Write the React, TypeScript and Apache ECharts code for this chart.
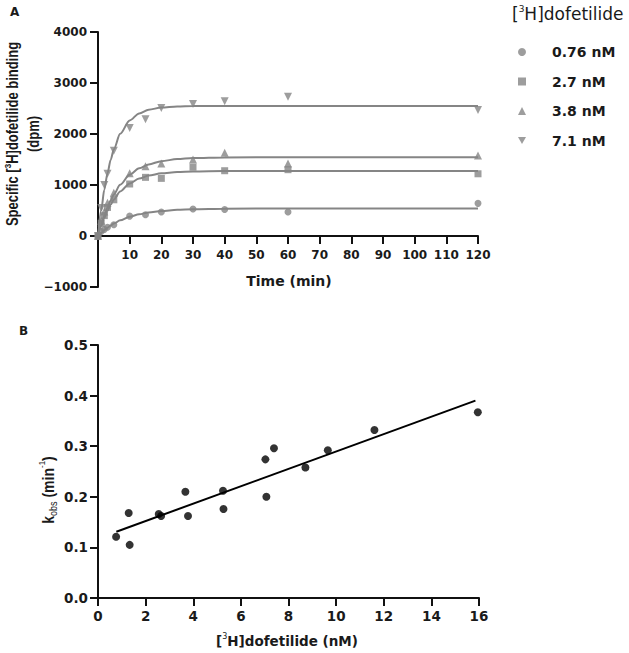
import React, { useEffect, useRef } from "react";
import * as echarts from "echarts";

// ---- Panel A data ----
const timesA = [0, 1, 2, 3, 5, 10, 15, 20, 30, 40, 60, 120];
const conc076 = [0, 90, 130, 170, 220, 390, 415, 470, 530, 520, 470, 640];
const conc27 = [0, 250, 400, 560, 710, 1020, 1150, 1130, 1350, 1280, 1300, 1220];
const conc38 = [0, 300, 480, 650, 850, 1230, 1370, 1420, 1500, 1630, 1420, 1580];
const conc71 = [0, 550, 1000, 1220, 1670, 2120, 2290, 2510, 2590, 2640, 2730, 2470];

// fitted curves
const curveT = [0, 1, 2, 3, 4, 5, 7, 10, 13, 16, 20, 25, 30, 40, 60, 120];
const fit076 = [0, 61, 115, 163, 206, 244, 307, 377, 426, 461, 491, 513, 525, 536, 540, 540];
const fit27 = [0, 194, 358, 497, 616, 716, 873, 1030, 1126, 1184, 1228, 1254, 1266, 1273, 1275, 1275];
const fit38 = [0, 215, 400, 559, 697, 816, 1004, 1200, 1326, 1404, 1468, 1508, 1528, 1541, 1545, 1545];
const fit71 = [0, 503, 908, 1232, 1492, 1701, 2004, 2267, 2404, 2475, 2519, 2540, 2547, 2550, 2550, 2550];

const legendNames = ["0.76 nM", "2.7 nM", "3.8 nM", "7.1 nM"];

// ---- Panel B data ----
const concB = [0.76, 1.29, 1.33, 2.55, 2.65, 3.67, 3.78, 5.25, 5.27, 7.03, 7.07, 7.39, 8.71, 9.65, 11.61, 15.95];
const kobsB = [0.121, 0.168, 0.105, 0.166, 0.162, 0.21, 0.162, 0.212, 0.176, 0.274, 0.2, 0.296, 0.258, 0.292, 0.332, 0.367];
const regX = [0.77, 15.85];
const regY = [0.131, 0.39];

const GREY = "#858585";
const WIDE = "DejaVu Sans, Verdana, sans-serif";
const NARROW = "Liberation Sans, Arial, sans-serif";
const TXT = "#1a1a1a";
const DOWN_TRI = "path://M0,0 L10,0 L5,9 Z";

const zip = (xs: number[], ys: number[]) => xs.map((x, i) => [x, ys[i]]);

export default function App() {
  const ref = useRef<HTMLDivElement>(null);
  useEffect(() => {
    if (!ref.current) return;
    const chart = echarts.init(ref.current, null, { renderer: "svg" });

    const axisCommon = {
      axisLine: { onZero: false, lineStyle: { color: "#111", width: 2 } },
      axisTick: { length: 8, lineStyle: { color: "#111", width: 2 } },
      splitLine: { show: false },
    };

    const sym = ["circle", "rect", "triangle", DOWN_TRI];
    const symSize = [7, 7, 8, 8];
    const pts = [conc076, conc27, conc38, conc71];
    const fits = [fit076, fit27, fit38, fit71];

    const series: any[] = [];
    fits.forEach((f, i) => {
      series.push({
        name: "fit" + i,
        type: "line",
        xAxisIndex: 0,
        yAxisIndex: 0,
        data: zip(curveT, f),
        showSymbol: false,
        symbol: "none",
        smooth: 0.3,
        smoothMonotone: "x",
        lineStyle: { color: GREY, width: 2 },
        z: 2,
      });
    });
    pts.forEach((p, i) => {
      series.push({
        name: legendNames[i],
        type: "scatter",
        xAxisIndex: 0,
        yAxisIndex: 0,
        data: zip(timesA, p),
        symbol: sym[i],
        symbolSize: symSize[i],
        itemStyle: { color: GREY },
        z: 3,
      });
    });
    series.push({
      name: "kobs",
      type: "scatter",
      xAxisIndex: 1,
      yAxisIndex: 1,
      data: zip(concB, kobsB),
      symbol: "circle",
      symbolSize: 8,
      itemStyle: { color: "#000" },
      z: 3,
    });
    series.push({
      name: "regression",
      type: "line",
      xAxisIndex: 1,
      yAxisIndex: 1,
      data: zip(regX, regY),
      showSymbol: false,
      symbol: "none",
      lineStyle: { color: "#000", width: 2 },
      z: 2,
    });

    const labA = { fontFamily: WIDE, fontSize: 12, fontWeight: "bold", color: TXT };
    const labB = { fontFamily: WIDE, fontSize: 13.5, fontWeight: "bold", color: TXT };

    chart.setOption({
      animation: false,
      grid: [
        { left: 98, top: 32, width: 380, height: 255, containLabel: false },
        { left: 98, top: 345, width: 381, height: 253, containLabel: false },
      ],
      xAxis: [
        {
          type: "value",
          gridIndex: 0,
          min: 0,
          max: 120,
          interval: 10,
          position: "bottom",
          offset: -51,
          ...axisCommon,
          axisLabel: {
            ...labA,
            margin: 13,
            formatter: (v: number) => (v === 0 ? "" : String(v)),
          },
        },
        {
          type: "value",
          gridIndex: 1,
          min: 0,
          max: 16,
          interval: 2,
          ...axisCommon,
          axisLabel: { ...labB, margin: 11 },
        },
      ],
      yAxis: [
        {
          type: "value",
          gridIndex: 0,
          min: -1000,
          max: 4000,
          interval: 1000,
          ...axisCommon,
          axisLabel: {
            ...labA,
            margin: 11,
            formatter: (v: number) => String(v).replace("-", "\u2212"),
          },
        },
        {
          type: "value",
          gridIndex: 1,
          min: 0,
          max: 0.5,
          interval: 0.1,
          ...axisCommon,
          axisLabel: {
            ...labB,
            margin: 10,
            formatter: (v: number) => v.toFixed(1),
          },
        },
      ],
      legend: {
        data: legendNames,
        orient: "vertical",
        left: 513,
        top: 39,
        itemWidth: 8,
        itemHeight: 8,
        itemGap: 13.5,
        selectedMode: false,
        textStyle: { fontFamily: WIDE, fontSize: 14, fontWeight: "bold", color: TXT, lineHeight: 16, padding: [0, 0, 0, 21] },
      },
      graphic: [
        {
          type: "text",
          left: 10,
          top: 6,
          style: { text: "A", fontFamily: WIDE, fontSize: 12, fontWeight: "bold", fill: TXT },
        },
        {
          type: "text",
          left: 19,
          top: 325,
          style: { text: "B", fontFamily: WIDE, fontSize: 12, fontWeight: "bold", fill: TXT },
        },
        {
          type: "text",
          x: 23,
          y: 134,
          rotation: Math.PI / 2,
          scaleY: 1.2,
          style: {
            text: "Specific [{s|3}H]dofetilide binding\n(dpm)",
            align: "center",
            verticalAlign: "middle",
            fontFamily: NARROW,
            fontSize: 13,
            fontWeight: "bold",
            lineHeight: 17,
            fill: TXT,
            rich: {
              s: { fontFamily: NARROW, fontSize: 8, fontWeight: "bold", lineHeight: 9, verticalAlign: "top", fill: TXT },
            },
          },
        },
        {
          type: "text",
          x: 289,
          y: 281,
          style: {
            text: "Time (min)",
            align: "center",
            verticalAlign: "middle",
            fontFamily: WIDE,
            fontSize: 14,
            fontWeight: "bold",
            fill: TXT,
          },
        },
        {
          type: "text",
          x: 512,
          y: 14,
          style: {
            text: "[{s|3}H]dofetilide",
            align: "left",
            verticalAlign: "middle",
            fontFamily: WIDE,
            fontSize: 17,
            fontWeight: "normal",
            lineHeight: 20,
            fill: TXT,
            rich: {
              s: { fontFamily: WIDE, fontSize: 9, lineHeight: 11, verticalAlign: "top", fill: TXT },
            },
          },
        },
        {
          type: "text",
          x: 48,
          y: 490,
          rotation: Math.PI / 2,
          scaleY: 1.2,
          style: {
            text: "k{sub|obs} (min{s|-1})",
            align: "center",
            verticalAlign: "middle",
            fontFamily: NARROW,
            fontSize: 14,
            fontWeight: "bold",
            lineHeight: 18,
            fill: TXT,
            rich: {
              s: { fontFamily: NARROW, fontSize: 8, lineHeight: 10, verticalAlign: "top", fill: TXT },
              sub: { fontFamily: NARROW, fontSize: 9, lineHeight: 10, verticalAlign: "bottom", fill: TXT },
            },
          },
        },
        {
          type: "text",
          x: 287,
          y: 641,
          style: {
            text: "[{s|3}H]dofetilide (nM)",
            align: "center",
            verticalAlign: "middle",
            fontFamily: WIDE,
            fontSize: 13.5,
            fontWeight: "bold",
            lineHeight: 18,
            fill: TXT,
            rich: {
              s: { fontFamily: WIDE, fontSize: 8, lineHeight: 10, verticalAlign: "top", fill: TXT },
            },
          },
        },
      ],
      series,
    });
    return () => chart.dispose();
  }, []);
  return <div ref={ref} style={{ width: 629, height: 653, position: "absolute", left: 0, top: 0 }} />;
}
